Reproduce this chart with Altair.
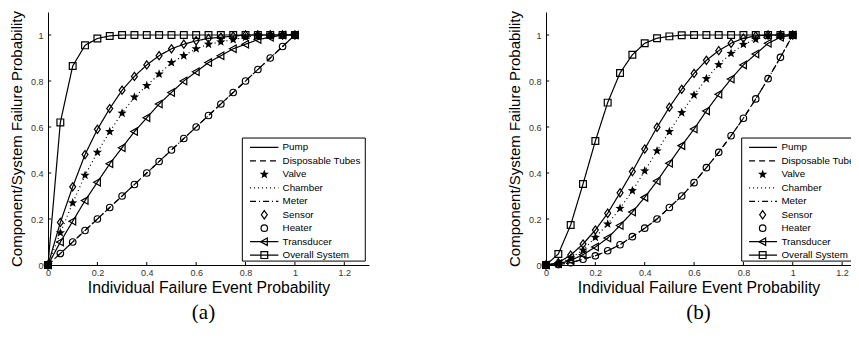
import math
import altair as alt
import pandas as pd

# ---------------- data ----------------
x_vals = [0.00, 0.05, 0.10, 0.15, 0.20, 0.25, 0.30, 0.35, 0.40, 0.45, 0.50,
          0.55, 0.60, 0.65, 0.70, 0.75, 0.80, 0.85, 0.90, 0.95, 1.00]

series_names = ["Pump", "Disposable Tubes", "Valve", "Chamber", "Meter",
                "Sensor", "Heater", "Transducer", "Overall System"]

x_ticks = [0, 0.2, 0.4, 0.6, 0.8, 1.0, 1.2]
y_ticks = [0, 0.2, 0.4, 0.6, 0.8, 1.0]

# panel (a)
a_heater = [0, 0.05, 0.10, 0.15, 0.20, 0.25, 0.30, 0.35, 0.40, 0.45, 0.50,
            0.55, 0.60, 0.65, 0.70, 0.75, 0.80, 0.85, 0.90, 0.95, 1.00]
a_transducer = [0, 0.10, 0.19, 0.28, 0.36, 0.44, 0.51, 0.58, 0.64, 0.70, 0.75,
                0.80, 0.84, 0.88, 0.91, 0.94, 0.96, 0.98, 0.99, 1.00, 1.00]
a_valve = [0, 0.14, 0.27, 0.39, 0.49, 0.58, 0.66, 0.73, 0.78, 0.83, 0.88,
           0.91, 0.94, 0.96, 0.97, 0.98, 0.99, 1.00, 1.00, 1.00, 1.00]
a_sensor = [0, 0.185, 0.34, 0.48, 0.59, 0.68, 0.76, 0.82, 0.87, 0.91, 0.94,
            0.96, 0.975, 0.985, 0.99, 0.995, 1.00, 1.00, 1.00, 1.00, 1.00]
a_overall = [0, 0.62, 0.865, 0.955, 0.985, 0.996, 1.00, 1.00, 1.00, 1.00, 1.00,
             1.00, 1.00, 1.00, 1.00, 1.00, 1.00, 1.00, 1.00, 1.00, 1.00]

# panel (b)
b_heater = [0, 0.002, 0.01, 0.025, 0.04, 0.062, 0.088, 0.123, 0.16, 0.20, 0.25,
            0.30, 0.358, 0.423, 0.49, 0.562, 0.638, 0.722, 0.81, 0.903, 1.00]
b_transducer = [0, 0.005, 0.02, 0.045, 0.078, 0.117, 0.172, 0.23, 0.294, 0.365, 0.442,
                0.519, 0.591, 0.67, 0.742, 0.809, 0.87, 0.917, 0.964, 0.99, 1.00]
b_valve = [0, 0.006, 0.03, 0.065, 0.12, 0.178, 0.246, 0.323, 0.409, 0.496, 0.58,
           0.662, 0.739, 0.81, 0.871, 0.92, 0.959, 0.981, 0.996, 1.00, 1.00]
b_sensor = [0, 0.01, 0.043, 0.091, 0.152, 0.225, 0.314, 0.406, 0.504, 0.599, 0.686,
            0.764, 0.833, 0.89, 0.932, 0.964, 0.986, 0.996, 1.00, 1.00, 1.00]
b_overall = [0, 0.048, 0.174, 0.352, 0.539, 0.706, 0.835, 0.914, 0.964, 0.986, 0.994,
             0.999, 1.00, 1.00, 1.00, 1.00, 1.00, 1.00, 1.00, 1.00, 1.00]

panel_a = {"Pump": a_sensor, "Disposable Tubes": a_heater, "Valve": a_valve,
           "Chamber": a_valve, "Meter": a_heater, "Sensor": a_sensor,
           "Heater": a_heater, "Transducer": a_transducer, "Overall System": a_overall}
panel_b = {"Pump": b_sensor, "Disposable Tubes": b_heater, "Valve": b_valve,
           "Chamber": b_valve, "Meter": b_heater, "Sensor": b_sensor,
           "Heater": b_heater, "Transducer": b_transducer, "Overall System": b_overall}

# ---------------- styles ----------------
def star_path():
    pts = []
    for k in range(10):
        r = 1.0 if k % 2 == 0 else 0.42
        ang = -math.pi / 2 + k * math.pi / 5
        pts.append(f"{r * math.cos(ang):.3f},{r * math.sin(ang):.3f}")
    return "M" + "L".join(pts) + "Z"

STAR = star_path()
DIAMOND = "M0,-1L0.72,0L0,1L-0.72,0Z"
TRI_LEFT = "M-1,0L0.8,-1L0.8,1Z"
SQUARE = "M-1,-1L1,-1L1,1L-1,1Z"

line_dash = {"Pump": [1, 0], "Disposable Tubes": [6, 4], "Chamber": [1, 3],
             "Meter": [6, 3, 1, 3], "Transducer": [1, 0], "Overall System": [1, 0]}
marker_shape = {"Valve": STAR, "Sensor": DIAMOND, "Heater": "circle",
                "Transducer": TRI_LEFT, "Overall System": SQUARE}
marker_size = {"Valve": 95, "Sensor": 68, "Heater": 42, "Transducer": 56,
               "Overall System": 46}
marker_filled = {"Valve": True}
LW = 1.2

FONT = "Liberation Sans"


def make_panel(series, x_max, width, leg, caption, cap_dx):
    xs = alt.Scale(domain=[0, x_max], nice=False, zero=False)
    ys = alt.Scale(domain=[0, 1.1], nice=False, zero=False)
    x_axis = alt.Axis(values=x_ticks, format="~g", title="Individual Failure Event Probability",
                      titlePadding=3, labelPadding=3, titleFontSize=15.8)
    y_axis = alt.Axis(values=y_ticks, format="~g", title="Component/System Failure Probability",
                      titlePadding=6, labelPadding=5, titleFontSize=15)

    rows = []
    for name in series_names:
        for xv, yv in zip(x_vals, series[name]):
            rows.append({"x": xv, "y": yv, "series": name})
    df = pd.DataFrame(rows)

    layers = []
    # inward tick marks
    tx = pd.DataFrame({"t": x_ticks, "y0": 0.0, "y1": 0.013})
    layers.append(alt.Chart(tx).mark_rule(color="black", strokeWidth=1).encode(
        x=alt.X("t:Q", scale=xs, axis=x_axis), y=alt.Y("y0:Q", scale=ys, axis=y_axis), y2="y1:Q"))
    ty = pd.DataFrame({"t": y_ticks, "x0": 0.0, "x1": 0.013})
    layers.append(alt.Chart(ty).mark_rule(color="black", strokeWidth=1).encode(
        y=alt.Y("t:Q", scale=ys), x=alt.X("x0:Q", scale=xs), x2="x1:Q"))

    # curves
    for name in series_names:
        sub = df[df["series"] == name]
        if name in line_dash:
            layers.append(alt.Chart(sub).mark_line(color="black", strokeWidth=LW,
                                                   strokeDash=line_dash[name]).encode(
                x=alt.X("x:Q", scale=xs), y=alt.Y("y:Q", scale=ys)))
        if name in marker_shape:
            filled = marker_filled.get(name, False)
            layers.append(alt.Chart(sub).mark_point(
                shape=marker_shape[name], size=marker_size[name], filled=filled,
                color="black", strokeWidth=LW, opacity=1).encode(
                x=alt.X("x:Q", scale=xs), y=alt.Y("y:Q", scale=ys)))

    # legend box
    box = pd.DataFrame({"bx0": [leg["box_x0"]], "bx1": [leg["box_x1"]],
                        "by0": [leg["box_y0"]], "by1": [leg["box_y1"]]})
    layers.append(alt.Chart(box).mark_rect(fill="white", stroke="black", strokeWidth=1,
                                           clip=True).encode(
        x=alt.X("bx0:Q", scale=xs), x2="bx1:Q", y=alt.Y("by0:Q", scale=ys), y2="by1:Q"))

    leg_rows = []
    for i, name in enumerate(series_names):
        leg_rows.append({"name": name, "ly": leg["top"] - i * leg["step"],
                         "lx0": leg["line_x0"], "lx1": leg["line_x1"],
                         "mx": leg["mark_x"], "tx": leg["text_x"]})
    ldf = pd.DataFrame(leg_rows)
    for name in series_names:
        sub = ldf[ldf["name"] == name]
        if name in line_dash:
            layers.append(alt.Chart(sub).mark_rule(color="black", strokeWidth=LW,
                                                   strokeDash=line_dash[name]).encode(
                x=alt.X("lx0:Q", scale=xs), x2="lx1:Q", y=alt.Y("ly:Q", scale=ys)))
        if name in marker_shape:
            layers.append(alt.Chart(sub).mark_point(
                shape=marker_shape[name], size=marker_size[name],
                filled=marker_filled.get(name, False), color="black",
                strokeWidth=LW, opacity=1).encode(
                x=alt.X("mx:Q", scale=xs), y=alt.Y("ly:Q", scale=ys)))
    layers.append(alt.Chart(ldf).mark_text(align="left", baseline="middle", font=FONT,
                                           fontSize=9.8, color="black", clip=True).encode(
        x=alt.X("tx:Q", scale=xs), y=alt.Y("ly:Q", scale=ys), text="name:N"))

    return alt.layer(*layers).properties(
        width=width, height=253,
        title=alt.TitleParams(text=caption, orient="bottom", font="Liberation Serif",
                              fontSize=21, fontWeight="normal", color="black",
                              anchor="middle", offset=7, dx=cap_dx))


leg_a = {"box_x0": 0.787, "box_x1": 1.285, "box_y0": 0.017, "box_y1": 0.552,
         "top": 0.511, "step": 0.0585, "line_x0": 0.818, "line_x1": 0.933,
         "mark_x": 0.876, "text_x": 0.95}
leg_b = {"box_x0": 0.793, "box_x1": 1.35, "box_y0": 0.017, "box_y1": 0.552,
         "top": 0.511, "step": 0.0585, "line_x0": 0.823, "line_x1": 0.936,
         "mark_x": 0.878, "text_x": 0.954}

pa = make_panel(panel_a, 1.3, 321, leg_a, "(a)", -5)
pb = make_panel(panel_b, 1.236, 305, leg_b, "(b)", 0)

chart = alt.hconcat(pa, pb, spacing=138).properties(
    padding={"left": 1, "top": 2, "right": 0, "bottom": 0}
).configure_view(stroke=None).configure_axis(
    labelFont=FONT, labelFontSize=9, labelColor="#333333", labelFlush=False,
    titleFont=FONT, titleFontSize=15.5, titleFontWeight="normal", titleColor="black",
    domainColor="black", domainWidth=1, ticks=False, grid=False
)

chart.save("out.html", embed_options={"renderer": "svg", "actions": False})
